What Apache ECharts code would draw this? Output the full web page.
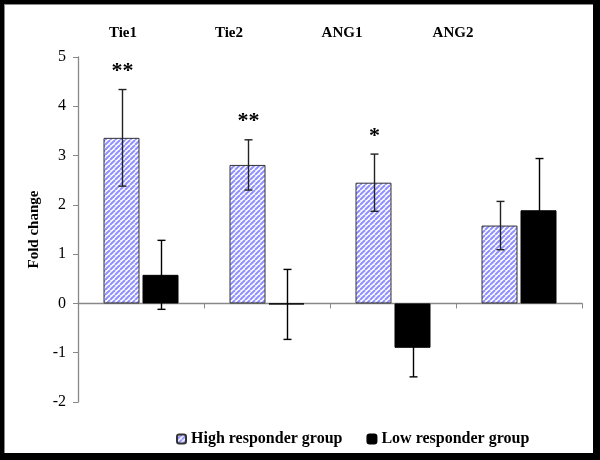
<!DOCTYPE html>
<html><head><meta charset="utf-8">
<script src="https://cdn.jsdelivr.net/npm/echarts@6/dist/echarts.min.js"></script>
<style>
html,body{margin:0;padding:0;background:#000;width:600px;height:460px;overflow:hidden}
#frame{position:absolute;left:4px;top:4px;width:589px;height:449px;background:#8a8a8a;}
#chart{position:absolute;left:5px;top:5px;width:588px;height:448px;background:#fff}
</style></head><body>
<div id="frame"></div>
<div id="chart"></div>
<script>
// ---- data ----
const categories = ['Tie1', 'Tie2', 'ANG1', 'ANG2'];
const highValues = [3.36, 2.81, 2.45, 1.58];
const highErrors = [0.98, 0.51, 0.58, 0.49];
const lowValues = [0.58, -0.02, -0.90, 1.89];
const lowErrors = [0.70, 0.71, 0.59, 1.05];
const significance = ['**', '**', '*', ''];
const seriesNames = ['High responder group', 'Low responder group'];
const yMin = -2, yMax = 5, yStep = 1;

// ---- layout / style ----
const FONT = "'Liberation Serif', 'Times New Roman', serif";
const BAR_W = 36, BAR_GAP = 3;
const OFFSET = (BAR_W + BAR_GAP) / 2;
const titleCenters = [118, 224, 337, 448]; // header label centres (px in chart)

function hatch() {
  const s = 5;
  const c = document.createElement('canvas');
  c.width = s; c.height = s;
  const g = c.getContext('2d');
  g.fillStyle = '#fff'; g.fillRect(0, 0, s, s);
  g.strokeStyle = '#8f8fff'; g.lineWidth = 2;
  for (const k of [-s, 0, s]) {
    g.beginPath(); g.moveTo(k, s); g.lineTo(k + s, 0); g.stroke();
  }
  return c;
}
const hatchFill = { image: hatch(), repeat: 'repeat' };

const errData = [];
highValues.forEach((v, i) => errData.push([i, v, highErrors[i], -1, significance[i] ? i : -1]));
lowValues.forEach((v, i) => errData.push([i, v, lowErrors[i], 1, -1]));

const chart = echarts.init(document.getElementById('chart'), null, { renderer: 'canvas' });
chart.setOption({
  animation: false,
  backgroundColor: '#fff',
  grid: { left: 73, right: 11, top: 52, bottom: 51 },
  legend: {
    data: seriesNames, left: 166, top: 421, itemWidth: 9, itemHeight: 9, itemGap: 24,
    textStyle: { fontFamily: FONT, fontWeight: 'bold', fontSize: 16, color: '#000' }
  },
  xAxis: {
    type: 'category', data: categories,
    axisLine: { onZero: true, lineStyle: { color: '#888', width: 1.3 } },
    axisTick: { show: true, length: 5, inside: false, lineStyle: { color: '#888' } },
    axisLabel: { show: false }, splitLine: { show: false }
  },
  yAxis: {
    type: 'value', min: yMin, max: yMax, interval: yStep,
    name: 'Fold change', nameLocation: 'middle', nameGap: 35,
    nameTextStyle: { fontFamily: FONT, fontWeight: 'bold', fontSize: 15, color: '#000' },
    axisLine: { show: true, lineStyle: { color: '#888', width: 1.3 } },
    axisTick: { show: true, length: 5, lineStyle: { color: '#888' } },
    axisLabel: { fontFamily: FONT, fontSize: 16, color: '#000', margin: 12 },
    splitLine: { show: false }
  },
  series: [
    {
      name: seriesNames[0], type: 'bar', data: highValues, barWidth: BAR_W,
      barGap: (BAR_GAP / BAR_W * 100) + '%',
      itemStyle: { color: hatchFill, borderColor: '#333', borderWidth: 1 }
    },
    {
      name: seriesNames[1], type: 'bar', data: lowValues, barWidth: BAR_W,
      itemStyle: { color: '#000', borderColor: '#000', borderWidth: 1 }
    },
    {
      type: 'custom', z: 10, data: errData,
      renderItem(params, api) {
        const i = api.value(0), v = api.value(1), e = api.value(2), side = api.value(3), star = api.value(4);
        const top = api.coord([i, v + e]);
        const bot = api.coord([i, v - e]);
        const x = Math.round(top[0] + side * OFFSET) + 0.5;
        const cap = 4;
        const st = { stroke: side < 0 ? '#222' : '#000', lineWidth: 1.4 };
        const children = [
          { type: 'line', shape: { x1: x, y1: top[1], x2: x, y2: bot[1] }, style: st },
          { type: 'line', shape: { x1: x - cap, y1: top[1], x2: x + cap, y2: top[1] }, style: st },
          { type: 'line', shape: { x1: x - cap, y1: bot[1], x2: x + cap, y2: bot[1] }, style: st }
        ];
        if (star >= 0) {
          children.push({
            type: 'text', x: x, y: top[1] - 18,
            style: { text: significance[star], fill: '#000', font: 'bold 22px ' + FONT, align: 'center', verticalAlign: 'middle' }
          });
        }
        return { type: 'group', children };
      }
    }
  ],
  graphic: categories.map((c, i) => ({
    type: 'text', x: titleCenters[i], y: 28,
    style: { text: c, fill: '#000', font: 'bold 15px ' + FONT, align: 'center', verticalAlign: 'middle' }
  }))
});
</script>
</body></html>
